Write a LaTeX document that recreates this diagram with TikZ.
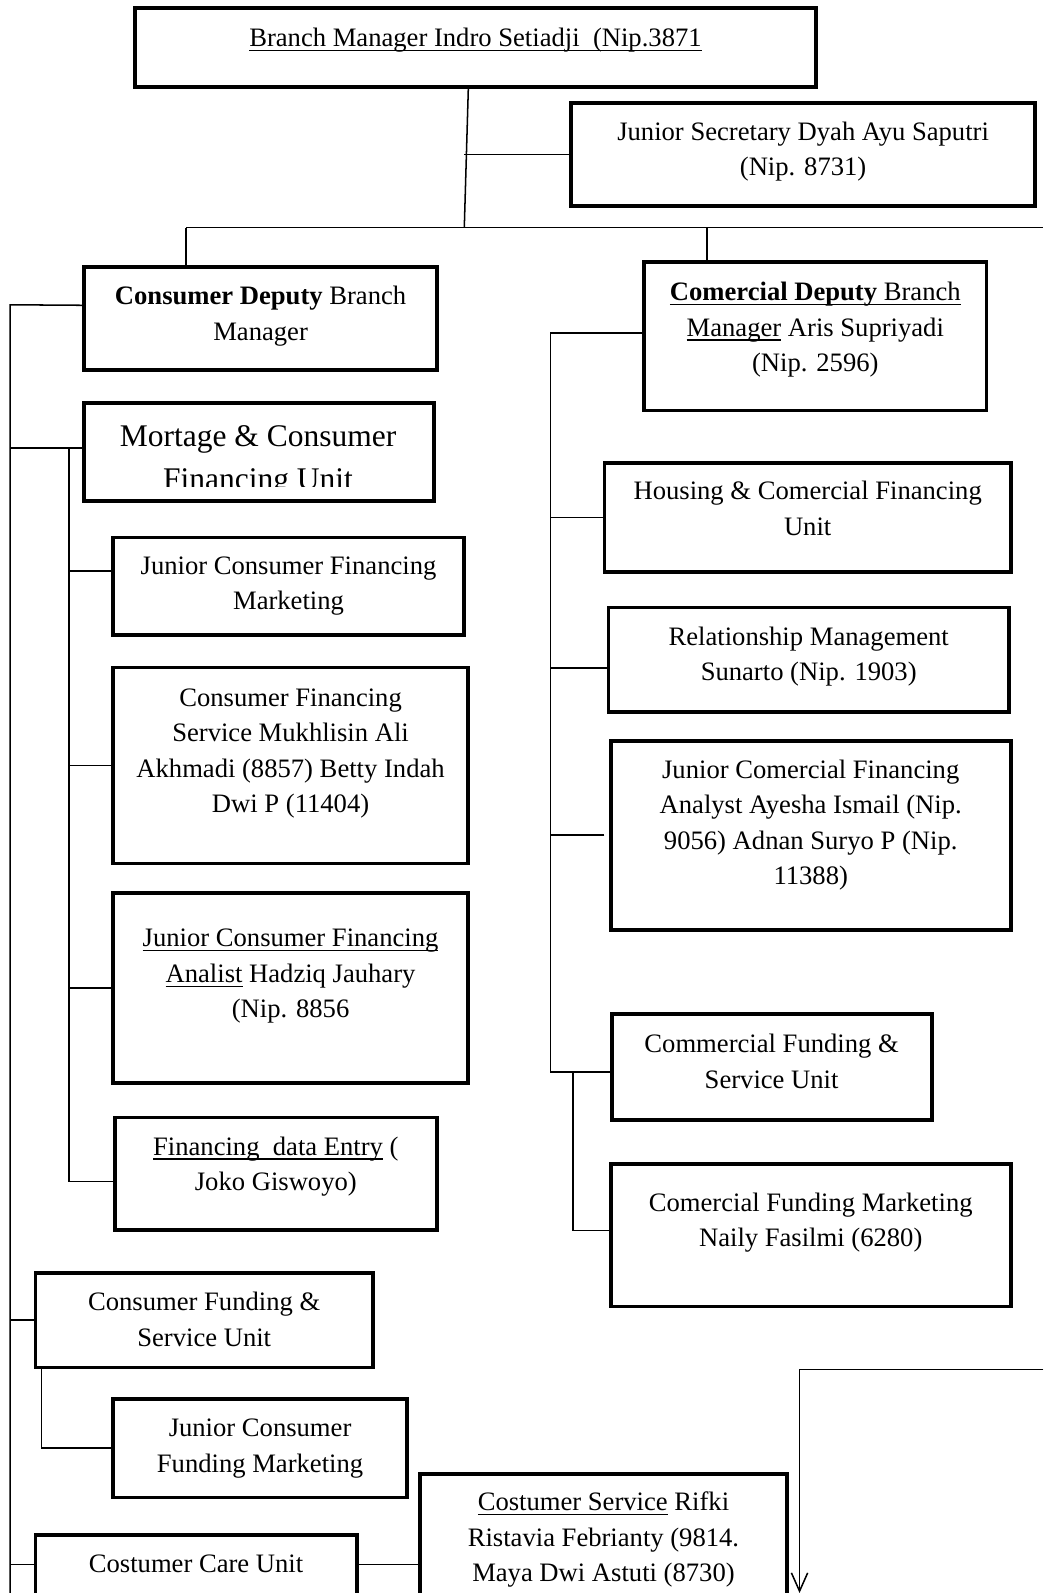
\documentclass[tikz,border=0pt]{standalone}
\usepackage{fontspec}
\setmainfont{Liberation Serif}
\usetikzlibrary{arrows.meta,calc}
\newcommand\uln[1]{\leavevmode\setbox0\hbox{#1}\rlap{\rule[-4.5pt]{\wd0}{1.4pt}}\box0\relax}
\tikzset{
 obox/.style={draw, line width=3.8pt, inner sep=0pt, outer sep=0pt},
 conn/.style={draw, line width=1.5pt},
 lbl/.style={inner sep=0pt, outer sep=0pt, font=\fontsize{26.2}{35}\selectfont},
}
\newcommand\orgbox[7]{%
 \node[obox, minimum width={#4-#2}, minimum height={#5-#3}] (#1) at ({(#2+#4)/2},{-(#3+#5)/2}) {};
 \node[lbl, anchor=base] (#1-t) at ({(#2+#4)/2},{-#6}) {\parbox[t]{\dimexpr#4pt-#2pt+80pt\relax}{\centering #7}};
}
\begin{document}
\begin{tikzpicture}[x=1pt,y=1pt]
\clip (0,0) rectangle (1027,-1568);
\fill[white] (0,0) rectangle (1027,-1568);

\orgbox{bm}{133}{8}{803}{86}{46}{\uln{Branch Manager Indro Setiadji\ \ (Nip.3871}}
\orgbox{sec}{562}{101}{1019}{203}{138}{Junior Secretary Dyah Ayu Saputri\\(Nip. 8731)}
\orgbox{cdep}{83}{263}{430}{364}{300}{\textbf{Consumer Deputy} Branch\\Manager}
\orgbox{comdep}{634}{258}{971}{404}{296}{\uln{\textbf{Comercial Deputy} Branch}\\\uln{Manager} Aris Supriyadi\\(Nip. 2596)}

\node[obox, minimum width=344, minimum height=96] (mort) at (255,-445) {};
\begin{scope}
\clip (86,-399) rectangle (424,-479);
\node[lbl, font=\fontsize{31}{43}\selectfont, anchor=base] (mort-t) at (254,-439) {\parbox[t]{420pt}{\centering Mortage \& Consumer\\Financing Unit}};
\end{scope}

\orgbox{jcfm}{111}{529}{457}{625}{565}{Junior Consumer Financing\\Marketing}
\orgbox{cfs}{111}{657}{461}{850}{695}{Consumer Financing\\Service Mukhlisin Ali\\Akhmadi (8857) Betty Indah\\Dwi P (11404)}
\orgbox{jcfa}{111}{879}{461}{1066}{932}{\uln{Junior Consumer Financing}\\\uln{Analist} Hadziq Jauhary\\(Nip. 8856}
\orgbox{fde}{113}{1100}{430}{1211}{1137}{\uln{Financing\ \ data Entry} (\\Joko Giswoyo)}
\orgbox{hcf}{595}{456}{995}{563}{492}{Housing \& Comercial Financing\\Unit}
\orgbox{rel}{599}{598}{993}{701}{635}{Relationship Management\\Sunarto (Nip. 1903)}
\orgbox{jcfa2}{601}{729}{995}{915}{766}{Junior Comercial Financing\\Analyst Ayesha Ismail (Nip.\\9056) Adnan Suryo P (Nip.\\11388)}
\orgbox{cfsu}{602}{998}{917}{1102}{1036}{Commercial Funding \&\\Service Unit}
\orgbox{cfm}{601}{1146}{995}{1286}{1192}{Comercial Funding Marketing\\Naily Fasilmi (6280)}
\orgbox{cfund}{35}{1253}{367}{1346}{1290}{Consumer Funding \&\\Service Unit}
\orgbox{jcfmk}{111}{1377}{401}{1474}{1414}{Junior Consumer\\Funding Marketing}
\orgbox{cc}{35}{1511}{351}{1600}{1548}{Costumer Care Unit}
\orgbox{cs}{413}{1451}{775}{1600}{1487}{\uln{Costumer Service} Rifki\\Ristavia Febrianty (9814.\\Maya Dwi Astuti (8730)}

% top connectors
\coordinate (hub) at (457,-224);
\draw[conn] ([xshift=-7pt]bm.south) -- (hub);
\draw[conn] (sec.west) -- (sec.west -| hub);
\coordinate (jL) at (183,-224);
\coordinate (jR) at (696,-224);
\coordinate (hR) at (1027,-224);
\draw[conn] (jL) -- (hR);
\draw[conn] (jL) -- (jL |- cdep.north);
\draw[conn] (jR) -- (jR |- comdep.north);

% left spine
\coordinate (sL) at (10,-300);
\coordinate (sLb) at (10,-1568);
\coordinate (ccy) at (0,-1540);
\draw[conn] ([yshift=13pt]cdep.west) -- (sL) -- (sLb);
\draw[conn] ([yshift=4pt]mort.west) -- +(-73,0);
\draw[conn] (cfund.west) -- (cfund.west -| sL);
\draw[conn] (cc.west |- ccy) -- (ccy -| sL);
\draw[conn] (cc.east |- ccy) -- (cs.west |- ccy);

% inner spine
\coordinate (iT) at (68,-441);
\coordinate (iB) at (68,-1163);
\draw[conn] (iT) -- (iB) -- (iB -| fde.west);
\draw[conn] ([yshift=15pt]jcfm.west) -- +(-43,0);
\draw[conn] (cfs.west) -- (cfs.west -| iT);
\draw[conn] (jcfa.west) -- (jcfa.west -| iT);

% right spine
\coordinate (rT) at (542,-328);
\coordinate (rB) at (542,-1055);
\draw[conn] (comdep.west |- rT) -- (rT) -- (rB) -- (rB -| cfsu.west);
\draw[conn] (hcf.west) -- (hcf.west -| rT);
\draw[conn] ([yshift=-8pt]rel.west) -- +(-57,0);
\draw[conn] ([xshift=-6pt]jcfa2.west) -- (jcfa2.west -| rT);
\coordinate (sT) at (564,-1055);
\draw[conn] (sT) |- ([yshift=5pt]cfm.west);

% consumer funding sub
\coordinate (fT) at (41,-1346);
\draw[conn] (fT) |- (jcfmk.west);

% arrow
\coordinate (aR) at (1027,-1348);
\coordinate (aB) at (787,-1568);
\draw[conn, -{Straight Barb[length=18pt,width=16pt]}] (aR) -| (aB);
\end{tikzpicture}
\end{document}
